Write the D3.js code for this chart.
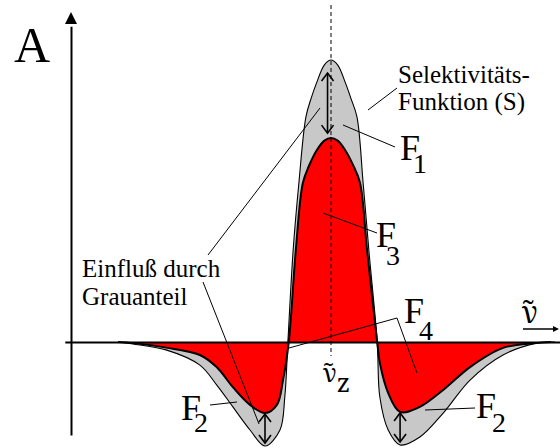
<!DOCTYPE html>
<html>
<head>
<meta charset="utf-8">
<script src="https://cdn.jsdelivr.net/npm/d3@7"></script>
<style>
  @font-face { font-family: "ChartSerif"; src: local("Liberation Serif"), local("LiberationSerif-Regular"), local("LiberationSerif"); }
  body { margin: 0; background: #fff; }
  svg { display: block; }
  .lbl { font-family: "ChartSerif", "Liberation Serif", serif; }
  .greek { font-family: "Noto Serif", serif; }
</style>
</head>
<body>
<svg id="chart" width="560" height="448"></svg>
<script>
// Selectivity function S(ν): wavenumber offset from ν_z and relative amplitude
const sNu  = [-4.84, -4.5, -3.75, -2.98, -2.6, -2.23, -1.84, -1.5, -1.16, -1.05, -0.98,
              -0.86, -0.73, -0.57, -0.45, -0.33, -0.15, 0, 0.15, 0.33, 0.45, 0.59, 0.73, 0.86, 1.05,
              1.11, 1.30, 1.57, 2.02, 2.55, 3.16, 3.91, 4.68, 5.09];
const sVal = [0, -0.007, -0.028, -0.082, -0.152, -0.23, -0.312, -0.369, -0.312, -0.195, 0,
              0.326, 0.564, 0.798, 0.865, 0.918, 0.983, 1.0, 0.983, 0.918, 0.865, 0.798, 0.564, 0.326, 0,
              -0.195, -0.312, -0.365, -0.337, -0.252, -0.135, -0.046, -0.004, 0];

// Resulting response F(ν) (red)
const fNu  = [-4.84, -4.5, -3.75, -2.98, -2.6, -2.23, -1.84, -1.5, -1.23, -1.09, -0.96,
              -0.80, -0.64, -0.5, -0.32, -0.15, 0, 0.15, 0.32, 0.5, 0.66, 0.82, 1.05,
              1.11, 1.30, 1.57, 2.02, 2.55, 3.16, 3.91, 4.64, 5.0];
const fVal = [0, -0.004, -0.02, -0.046, -0.089, -0.16, -0.223, -0.252, -0.223, -0.135, 0,
              0.326, 0.564, 0.625, 0.681, 0.714, 0.723, 0.714, 0.681, 0.628, 0.564, 0.326, 0,
              -0.074, -0.181, -0.248, -0.23, -0.17, -0.089, -0.021, -0.004, 0];

// Grey share marked at the three extrema: position, S value, F value
const gapNu = [-1.5, -0.09, 1.57];
const gapS  = [-0.369, 1.0, -0.365];
const gapF  = [-0.252, 0.723, -0.248];

// Text
const axisLabelY = "A";
const axisLabelX = "ν\u0303";
const centreLabel = ["ν\u0303", "z"];
const selLabel = ["Selektivitäts-", "Funktion (S)"];
const greyLabel = ["Einfluß durch", "Grauanteil"];
const areaNames = [["F", "1"], ["F", "2"], ["F", "3"], ["F", "4"], ["F", "2"]];

const svg = d3.select("#chart");
const x = d3.scaleLinear().domain([-6, 5]).range([67, 551]);
const y = d3.scaleLinear().domain([0, 1]).range([342, 60]);

const sData = sNu.map((v, i) => [v, sVal[i]]);
const fData = fNu.map((v, i) => [v, fVal[i]]);

const curve = d3.curveCatmullRom.alpha(0.5);
const area = d3.area().x(d => x(d[0])).y0(y(0)).y1(d => y(d[1])).curve(curve);
const line = d3.line().x(d => x(d[0])).y(d => y(d[1])).curve(curve);

// filled areas
svg.append("path").attr("d", area(sData)).attr("fill", "#c8c8c8");
svg.append("path").attr("d", area(fData)).attr("fill", "#ff0000");
svg.append("path").attr("d", line(sData)).attr("fill", "none").attr("stroke", "#000").attr("stroke-width", 1.1);
svg.append("path").attr("d", line(fData)).attr("fill", "none").attr("stroke", "#000").attr("stroke-width", 2);

// axes (plain lines, no ticks)
const xAxis = d3.axisBottom(d3.scaleLinear().domain([-6.05, 5.2]).range([x(-6.05), x(5.2)]))
  .tickValues([]).tickSizeOuter(0);
svg.append("g").attr("transform", `translate(0,${y(0)})`).call(xAxis)
  .select(".domain").attr("stroke", "#000").attr("stroke-width", 2);

const yAxisScale = d3.scaleLinear().domain([-0.33, 1.12]).range([y(-0.33), y(1.12)]);
const yAxis = d3.axisLeft(yAxisScale).tickValues([]).tickSizeOuter(0);
svg.append("g").attr("transform", `translate(${x(-6) + 4},0)`).call(yAxis)
  .select(".domain").attr("stroke", "#000").attr("stroke-width", 2);
// y arrow head
const yx = x(-6) + 4, ytop = y(1.17);
svg.append("path").attr("d", `M${yx},${ytop} L${yx - 6},${ytop + 12} L${yx + 6},${ytop + 12} Z`).attr("fill", "#000");

// dashed centre line at ν_z
svg.append("line").attr("x1", x(0)).attr("x2", x(0)).attr("y1", 5).attr("y2", 356)
  .attr("stroke", "#000").attr("stroke-width", 1).attr("stroke-dasharray", "4,3");

// double-headed arrows between S and F at the extrema
function dblArrow(px, ya, yb) {
  const g = svg.append("g").attr("fill", "none").attr("stroke", "#000").attr("stroke-width", 1.6);
  g.append("line").attr("x1", px).attr("x2", px).attr("y1", ya).attr("y2", yb);
  const d1 = ya < yb ? 1 : -1;
  g.append("path").attr("d", `M${px - 6},${ya + d1 * 8} L${px},${ya} L${px + 6},${ya + d1 * 8}`);
  g.append("path").attr("d", `M${px - 6},${yb - d1 * 8} L${px},${yb} L${px + 6},${yb - d1 * 8}`);
}
gapNu.forEach((nu, i) => {
  const ys = y(gapS[i]), yf = y(gapF[i]);
  if (gapS[i] > 0) dblArrow(x(nu) + 0.5, ys + 13, yf - 5);
  else dblArrow(x(nu), yf + 1, ys - 3);
});

// leader lines
const leaders = [
  [[368, 110], [397, 88]],
  [[343, 125], [395, 147]],
  [[323, 213], [377, 233]],
  [[289, 348], [397, 318], [417, 373]],
  [[210, 405], [237, 402]],
  [[425, 410], [475, 408]],
  [[320, 108], [208, 255]],
  [[203, 282], [259, 424]]
];
leaders.forEach(pts => {
  svg.append("path").attr("d", d3.line()(pts)).attr("fill", "none")
    .attr("stroke", "#000").attr("stroke-width", 1);
});

// labels
const labels = svg.append("g");
function label(cls) {
  return labels.append("text").attr("class", cls)
    .style("font-family", cls === "lbl" ? "'Liberation Serif', serif" : "'Noto Serif', serif");
}

label("lbl").attr("x", 14).attr("y", 62).attr("font-size", 50).text(axisLabelY);

// ν axis label with small arrow
label("greek").attr("x", 522).attr("y", 323).attr("font-size", 30).text(axisLabelX);
svg.append("line").attr("x1", 523).attr("x2", 555).attr("y1", 329).attr("y2", 329)
  .attr("stroke", "#000").attr("stroke-width", 1.5);
svg.append("path").attr("d", "M559,329 L553,326 L553,332 Z").attr("fill", "#000");

// ν_z under the centre line
const cz = label("greek").attr("x", 323).attr("y", 382).attr("font-size", 26).text(centreLabel[0]);
cz.append("tspan").attr("dy", 10).attr("font-size", 26).text(centreLabel[1]);

selLabel.forEach((t, i) => label("lbl").attr("x", 398).attr("y", 83 + i * 27)
  .attr("font-size", 25).text(t));
greyLabel.forEach((t, i) => label("lbl").attr("x", 82).attr("y", 277 + i * 28)
  .attr("font-size", 25).text(t));

// F-labels: [x, baseline, subscript dx, subscript dy]
const namePos = [
  [400, 160, -7, 13],
  [181, 420, -7, 12],
  [376, 247, -10, 18],
  [404, 323, -5, 17],
  [476, 418, -4, 14]
];
areaNames.forEach((n, i) => {
  const p = namePos[i];
  const t = label("lbl").attr("x", p[0]).attr("y", p[1]).attr("font-size", 36).text(n[0]);
  t.append("tspan").attr("dx", p[2]).attr("dy", p[3]).attr("font-size", 28).text(n[1]);
});
</script>
</body>
</html>
